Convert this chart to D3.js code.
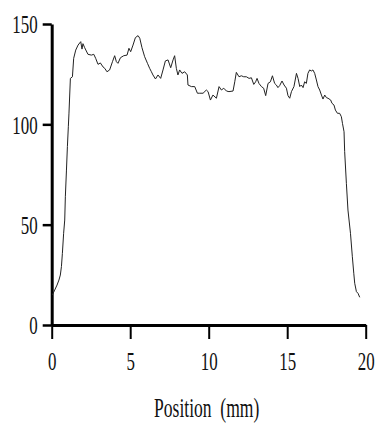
<!DOCTYPE html>
<html>
<head>
<meta charset="utf-8">
<script src="https://cdn.jsdelivr.net/npm/d3@7"></script>
<style>
    body { margin: 0; background: #fff; }
    svg { display: block; }
    .axis path, .axis line { stroke: #000; }
</style>
</head>
<body>
<svg id="canvas" width="376" height="429"></svg>
<script>
document.addEventListener("DOMContentLoaded", function() {

    // profile: position (mm) and value
    const position = [
        0.04, 0.19, 0.34, 0.46, 0.55, 0.62, 0.68, 0.76, 0.83, 0.87, 0.94, 1.00, 1.06, 1.10, 1.19,
        1.32, 1.40, 1.53, 1.68, 1.85, 1.93, 1.99, 2.10, 2.31, 2.53, 2.68, 2.80, 2.95, 3.10, 3.27,
        3.38, 3.52, 3.69, 3.87, 4.01, 4.12, 4.22, 4.38, 4.59, 4.80, 4.92, 5.03, 5.18, 5.33, 5.50,
        5.61, 5.75, 5.92, 6.10, 6.24, 6.35, 6.45, 6.61, 6.77, 6.94, 7.09, 7.24, 7.41, 7.58, 7.73,
        7.83, 7.94, 8.04, 8.15, 8.30, 8.47, 8.64, 8.68, 8.90, 9.11, 9.28, 9.43, 9.64, 9.85, 9.96,
        10.11, 10.27, 10.49, 10.66, 10.81, 10.96, 11.13, 11.29, 11.55, 11.66, 11.76, 11.93, 12.08, 12.23, 12.40,
        12.57, 12.72, 12.87, 12.99, 13.08, 13.20, 13.36, 13.50, 13.63, 13.78, 13.93, 14.06, 14.20, 14.31, 14.41,
        14.52, 14.67, 14.80, 14.95, 15.05, 15.16, 15.27, 15.43, 15.59, 15.69, 15.80, 15.90, 16.01, 16.11, 16.22,
        16.32, 16.43, 16.54, 16.64, 16.75, 16.86, 16.96, 17.07, 17.18, 17.28, 17.39, 17.50, 17.60, 17.77, 17.85,
        17.98, 18.07, 18.20, 18.34, 18.45, 18.52, 18.62, 18.66, 18.77, 18.87, 19.03, 19.15, 19.24, 19.30, 19.41,
        19.51, 19.62
    ];
    const value = [
        14.9, 17.4, 19.9, 22.4, 24.9, 29.1, 35.7, 45.7, 52.3, 63.9, 77.2, 88.9, 98.8, 105.6, 122.9,
        123.7, 132.9, 137.0, 139.5, 141.2, 137.5, 140.2, 138.2, 134.9, 134.5, 134.9, 132.9, 129.9, 130.6, 128.6,
        127.9, 126.2, 127.1, 131.2, 134.2, 131.2, 130.4, 133.2, 134.2, 134.5, 137.9, 136.2, 139.5, 143.2, 144.2,
        142.9, 138.2, 133.7, 130.4, 127.9, 126.2, 124.6, 122.6, 124.6, 122.9, 127.1, 131.6, 132.1, 128.2, 132.1,
        134.2, 127.9, 124.6, 127.1, 125.4, 126.2, 124.6, 119.6, 118.8, 118.8, 115.5, 115.5, 115.5, 117.1, 116.3,
        112.1, 114.6, 113.0, 118.8, 117.1, 118.0, 116.6, 116.3, 116.6, 121.2, 125.9, 123.7, 124.2, 123.7, 123.7,
        122.9, 123.2, 119.9, 121.2, 122.9, 120.4, 118.8, 118.0, 114.3, 120.4, 121.2, 124.2, 120.4, 119.6, 118.3,
        119.3, 121.6, 119.6, 118.0, 114.3, 113.0, 116.3, 118.8, 125.4, 122.9, 118.8, 119.6, 118.3, 121.2, 120.4,
        125.4, 127.1, 126.6, 127.1, 125.4, 122.1, 118.8, 117.1, 114.6, 112.6, 114.6, 113.3, 113.0, 112.1, 110.5,
        109.6, 107.1, 105.5, 105.5, 103.8, 100.5, 96.3, 86.4, 70.6, 57.3, 45.7, 34.0, 25.8, 20.8, 16.6,
        15.8, 13.8
    ];

    const xTicks = [0, 5, 10, 15, 20];
    const yTicks = [0, 50, 100, 150];
    const xTitle = "Position  (mm)";

    const serif = "'Liberation Serif', 'Times New Roman', serif";
    const data = position.map((p, i) => ({ x: p, y: value[i] }));

    const svg = d3.select("#canvas");

    const x = d3.scaleLinear().domain([0, 20]).range([51.7, 365.7]);
    const y = d3.scaleLinear().domain([0, 150]).range([325, 24]);

    // Y axis
    const yAxis = svg.append("g")
        .attr("class", "axis")
        .attr("transform", `translate(${x(0)},0)`)
        .call(d3.axisLeft(y).tickValues(yTicks).tickSize(9).tickSizeOuter(0))
        .attr("font-family", serif)
        .attr("font-size", 26);

    yAxis.select(".domain").attr("stroke-width", 3);
    yAxis.selectAll(".tick line").attr("stroke-width", 2.5);
    yAxis.selectAll(".tick text")
        .attr("x", null)
        .attr("dy", "0.34em")
        .attr("fill", "#111")
        .attr("text-anchor", "end")
        .attr("transform", "translate(-14,0) scale(0.65,1)");

    // X axis
    const xAxis = svg.append("g")
        .attr("class", "axis")
        .attr("transform", `translate(0,${y(0)})`)
        .call(d3.axisBottom(x).tickValues(xTicks).tickSize(14).tickSizeOuter(0))
        .attr("font-family", serif)
        .attr("font-size", 26);

    xAxis.select(".domain").attr("stroke-width", 3);
    xAxis.selectAll(".tick line").attr("stroke-width", 2);
    xAxis.selectAll(".tick text")
        .attr("y", null)
        .attr("dy", null)
        .attr("fill", "#111")
        .attr("text-anchor", "middle")
        .attr("transform", "translate(0,45) scale(0.65,1)");

    svg.append("text")
        .attr("font-family", serif)
        .attr("font-size", 27)
        .attr("fill", "#111")
        .style("white-space", "pre")
        .attr("text-anchor", "middle")
        .attr("transform", `translate(${(x(0) + x(20)) / 2 - 2},417) scale(0.65,1)`)
        .text(xTitle);

    // Profile line
    svg.append("path")
        .datum(data)
        .attr("fill", "none")
        .attr("stroke", "#222")
        .attr("stroke-width", 1)
        .attr("d", d3.line().x(d => x(d.x)).y(d => y(d.y)));
});
</script>
</body>
</html>
